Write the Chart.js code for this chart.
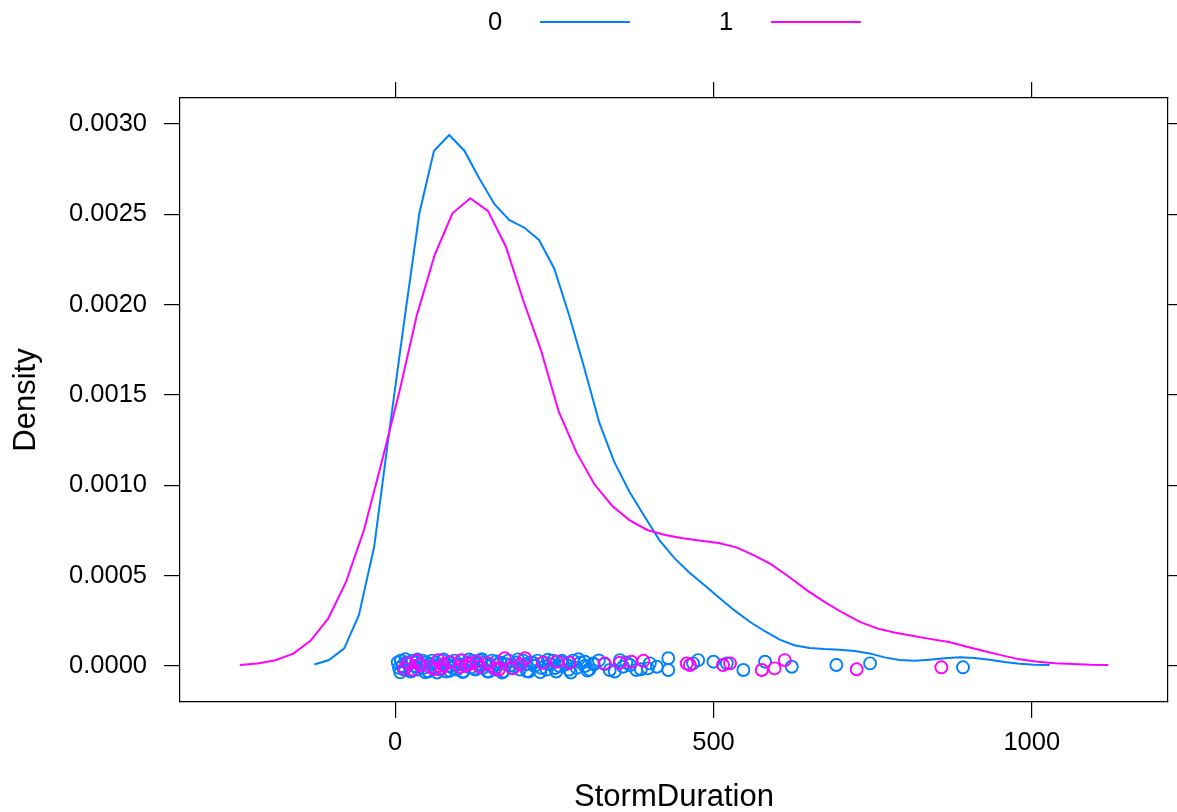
<!DOCTYPE html>
<html>
<head>
<meta charset="utf-8">
<script src="https://cdn.jsdelivr.net/npm/chart.js@4/dist/chart.umd.min.js"></script>
<style>
  html, body { margin: 0; padding: 0; background: #fff; }
  #wrap { position: relative; width: 1177px; height: 812px; font-family: "Liberation Sans", Arial, sans-serif; }
  #chart { position: absolute; left: 0; top: 0; }
  .key { position: absolute; top: 4px; font-size: 25.5px; line-height: 34px; color: #000; }
  .swatch { position: absolute; top: 21px; height: 2px; }
</style>
</head>
<body>
<div id="wrap">
  <canvas id="chart" width="1177" height="812"></canvas>
  <span class="key" style="left:488px">0</span>
  <div class="swatch" style="left:540px;width:90px;background:#0080ff"></div>
  <span class="key" style="left:719px">1</span>
  <div class="swatch" style="left:771px;width:90px;background:#ff00ff"></div>
</div>
<script>
// density estimate for group "0"
const dens0X = [-127, -104, -80, -57, -33, -9, 14, 38, 61, 85, 109, 132, 156, 179, 203, 226,
    250, 274, 297, 321, 344, 368, 392, 415, 439, 462, 486, 509, 533, 557, 580, 604, 627,
    651, 674, 698, 722, 745, 769, 792, 816, 839, 863, 887, 910, 934, 957, 981, 1004, 1028];
const dens0Y = [0.000009, 0.000033, 0.000098, 0.000282, 0.000660, 0.001306, 0.001904,
    0.002506, 0.002852, 0.002939, 0.002851, 0.002700, 0.002556, 0.002469, 0.002426,
    0.002358, 0.002199, 0.001933, 0.001651, 0.001343, 0.001131, 0.000965, 0.000826,
    0.000697, 0.000596, 0.000518, 0.000447, 0.000378, 0.000308, 0.000245, 0.000194,
    0.000146, 0.000115, 0.000100, 0.000094, 0.000090, 0.000083, 0.000070, 0.000048,
    0.000033, 0.000029, 0.000035, 0.000043, 0.000048, 0.000044, 0.000035, 0.000022,
    0.000013, 0.000007, 0.000006];

// density estimate for group "1"
const dens1X = [-244, -216, -188, -160, -133, -105, -77, -49, -21, 7, 34, 62, 90, 118, 146,
    174, 201, 229, 257, 285, 313, 341, 368, 396, 424, 452, 480, 508, 536, 563, 591, 619,
    647, 675, 703, 730, 758, 786, 814, 842, 870, 898, 925, 953, 981, 1009, 1037, 1064,
    1092, 1120];
const dens1Y = [0.0000055, 0.000014, 0.000032, 0.000069, 0.000140, 0.000264, 0.000467,
    0.000753, 0.001131, 0.001524, 0.001941, 0.002275, 0.002506, 0.002589, 0.002518,
    0.002321, 0.002026, 0.001749, 0.001408, 0.001181, 0.001006, 0.000886, 0.000808,
    0.000753, 0.000725, 0.000707, 0.000694, 0.000681, 0.000657, 0.000614, 0.000563,
    0.000493, 0.000419, 0.000354, 0.000295, 0.000244, 0.000207, 0.000184, 0.000166,
    0.000149, 0.000133, 0.000107, 0.000083, 0.000059, 0.000037, 0.000024, 0.000015,
    0.000011, 0.000007, 0.000006];

// raw observations (jittered around zero)
const obs0X = [4, 6, 9, 11, 14, 17, 21, 24, 27, 31, 33, 36, 40, 43, 45, 49, 52, 55, 58, 62,
    64, 67, 71, 74, 77, 80, 84, 87, 90, 93, 97, 100, 104, 107, 111, 115, 118, 122, 126,
    130, 134, 138, 141, 145, 149, 152, 157, 161, 165, 170, 174, 178, 183, 187, 191, 196,
    201, 205, 210, 214, 219, 224, 229, 233, 238, 243, 248, 253, 258, 263, 268, 273, 279,
    285, 291, 298, 305, 312, 298, 311, 329, 337, 353, 358, 369, 379, 397, 400, 411, 429,
    429, 468, 476, 500, 521, 547, 581, 623, 693, 746, 892,
    8, 16, 26, 35, 47, 56, 66, 76, 86, 95, 106, 116, 125, 136, 147, 159, 168, 181, 193,
    207, 217, 228, 240, 251, 262, 276, 288, 302, 320, 345, 363, 386];
const obs0J = [0.00002, -0.00001, 0.00003, 0.0, -0.00002, 0.00002, 0.00001, -0.00003,
    0.00003, 0.0, 0.00002, -0.00002, 0.00001, 0.00003, -0.00001, 0.00002, -0.00003,
    0.00001, 0.00003, -0.00001, 0.00002, 0.0, -0.00002, 0.00003, 0.00001, -0.00003,
    0.00002, 0.0, -0.00001, 0.00003, -0.00002, 0.00001, 0.00003, -0.00003, 0.0, 0.00002,
    -0.00001, 0.00003, -0.00002, 0.00001, 0.00003, -0.00001, 0.00002, -0.00003, 0.0,
    0.00003, -0.00002, 0.00001, 0.00002, -0.00003, 0.00001, 0.00003, -0.00001, 0.0,
    0.00002, -0.00002, 0.00003, 0.00001, -0.00003, 0.00002, 0.0, 0.00003, -0.00001,
    0.00002, -0.00002, 0.00001, 0.00003, -0.00003, 0.0, 0.00002, 0.00001, -0.00002,
    0.00003, -0.00001, 0.00002, 0.0, -0.00002, 0.00001, 0.000024, 0.000015, 0.000011,
    -0.000022, 0.000033, -0.000004, 0.000006, -0.000022, -0.000013, 0.000015, -0.000004,
    0.000043, -0.000022, 0.000015, 0.000033, 0.000024, 0.000015, -0.000022, 0.000024,
    -0.000004, 0.000006, 0.000015, -0.000007,
    -0.000035, 0.000038, -0.000028, 0.000036, -0.000034, 0.000012, -0.000036, 0.000037,
    -0.000027, 0.000008, -0.000033, 0.000036, -0.000015, 0.000038, -0.000031, 0.000026,
    -0.000036, 0.000004, 0.000037, -0.000029, 0.000017, -0.000034, 0.000035, -0.000011,
    0.000029, -0.000036, 0.000038, -0.000025, 0.000031, -0.000030, 0.000020, -0.000018];

const obs1X = [15, 20, 34, 39, 55, 68, 73, 75, 86, 102, 104, 117, 128, 133, 146, 157, 172,
    185, 204, 232, 254, 274, 329, 353, 371, 390, 458, 463, 515, 526, 576, 596, 612, 725, 858,
    28, 62, 110, 163, 196];
const obs1J = [-0.000013, 0.000015, 0.000029, 0.000006, -0.000006, 0.000033, -0.000013,
    0.000006, 0.000022, -0.000004, 0.000033, 0.000011, 0.000024, -0.000004, 0.000015,
    -0.000013, 0.000043, -0.000013, 0.000043, 0.000018, 0.000024, 0.000018, 0.000015,
    0.000018, 0.000024, 0.000029, 0.000015, 0.000006, 0.000006, 0.000015, -0.000022,
    -0.000013, 0.000033, -0.000018, -0.000007,
    -0.000020, -0.000017, 0.000002, -0.000019, 0.000009];

const xTicks = [0, 500, 1000];
const yTicks = [0, 0.0005, 0.001, 0.0015, 0.002, 0.0025, 0.003];

const X_MIN = -338, X_MAX = 1214;
const Y_MIN = -0.000199, Y_MAX = 0.003144;

const BLUE = "#0080ff";
const MAGENTA = "#ff00ff";
const FONT = "'Liberation Sans', Arial, Helvetica, sans-serif";

function pairs(xs, ys) {
    return xs.map((x, i) => ({ x: x, y: ys[i] }));
}

function setTicks(values) {
    return (scale) => {
        scale.ticks = values.map((v) => ({ value: v }));
    };
}

const tickGrid = (len) => ({
    drawOnChartArea: false,
    tickLength: len,
    tickColor: "#000",
    color: "#000",
    lineWidth: 1.2,
});
const frame = { display: true, color: "#000", width: 1.2 };

new Chart(document.getElementById("chart"), {
    data: {
        datasets: [
            {
                type: "scatter",
                data: pairs(obs0X, obs0J),
                borderColor: BLUE,
                backgroundColor: "rgba(0,0,0,0)",
                pointRadius: 6,
                pointBorderWidth: 1.9,
                order: 4,
            },
            {
                type: "line",
                data: pairs(dens0X, dens0Y),
                borderColor: BLUE,
                borderWidth: 2,
                pointRadius: 0,
                tension: 0,
                fill: false,
                order: 3,
            },
            {
                type: "scatter",
                data: pairs(obs1X, obs1J),
                borderColor: MAGENTA,
                backgroundColor: "rgba(0,0,0,0)",
                pointRadius: 6,
                pointBorderWidth: 1.9,
                order: 2,
            },
            {
                type: "line",
                data: pairs(dens1X, dens1Y),
                borderColor: MAGENTA,
                borderWidth: 2,
                pointRadius: 0,
                tension: 0,
                fill: false,
                order: 1,
            },
        ],
    },
    options: {
        responsive: false,
        animation: false,
        layout: { padding: 0 },
        plugins: {
            legend: { display: false },
            tooltip: { enabled: false },
        },
        scales: {
            x: {
                type: "linear",
                position: "bottom",
                min: X_MIN,
                max: X_MAX,
                afterBuildTicks: setTicks(xTicks),
                afterFit: (s) => { s.height = 110; },
                grid: tickGrid(16),
                border: frame,
                ticks: {
                    color: "#000",
                    font: { family: FONT, size: 25.5 },
                    padding: 10,
                    maxRotation: 0,
                    callback: (v) => String(v),
                },
                title: {
                    display: true,
                    text: "StormDuration",
                    color: "#000",
                    font: { family: FONT, size: 31 },
                    padding: { top: 0, bottom: -4 },
                },
            },
            xTop: {
                type: "linear",
                position: "top",
                min: X_MIN,
                max: X_MAX,
                afterBuildTicks: setTicks(xTicks),
                afterFit: (s) => { s.height = 98; },
                grid: tickGrid(16),
                border: frame,
                ticks: { display: false },
            },
            y: {
                type: "linear",
                position: "left",
                min: Y_MIN,
                max: Y_MAX,
                afterBuildTicks: setTicks(yTicks),
                afterFit: (s) => { s.width = 180; },
                grid: tickGrid(16),
                border: frame,
                ticks: {
                    color: "#000",
                    font: { family: FONT, size: 25.5 },
                    padding: 17,
                    callback: (v) => v.toFixed(4),
                },
                title: {
                    display: true,
                    text: "Density",
                    color: "#000",
                    font: { family: FONT, size: 31 },
                    padding: { top: 8, bottom: 0 },
                },
            },
            yRight: {
                type: "linear",
                position: "right",
                min: Y_MIN,
                max: Y_MAX,
                afterBuildTicks: setTicks(yTicks),
                afterFit: (s) => { s.width = 9; },
                grid: tickGrid(9),
                border: frame,
                ticks: { display: false },
            },
        },
    },
});
</script>
</body>
</html>
